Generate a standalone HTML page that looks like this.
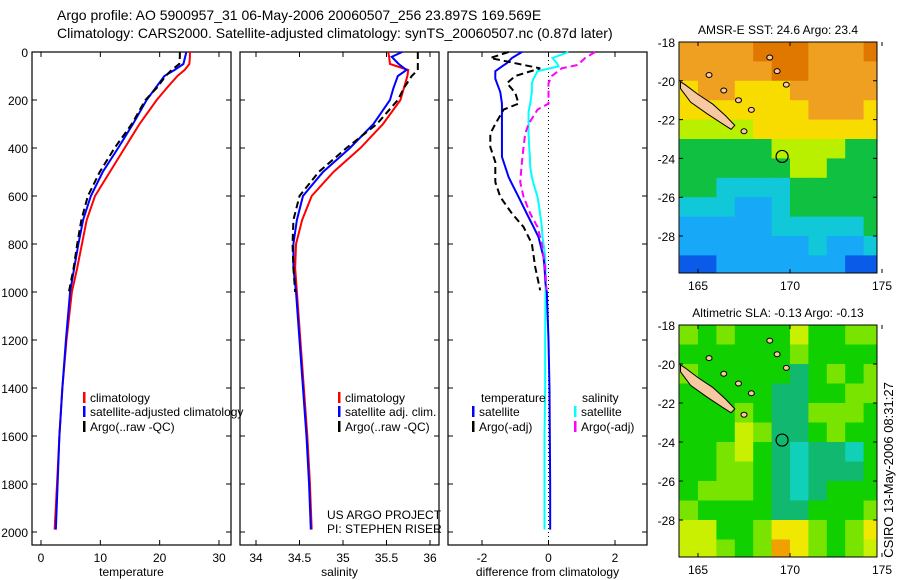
<!DOCTYPE html>
<html><head><meta charset="utf-8"><style>
body{margin:0;background:#fff;width:900px;height:580px;overflow:hidden}
svg{display:block;font-family:"Liberation Sans",sans-serif}
</style></head><body>
<svg id="fig" width="900" height="580" viewBox="0 0 900 580">
<text x="57" y="20" font-size="14">Argo profile: AO 5900957_31 06-May-2006 20060507_256 23.897S 169.569E</text>
<text x="57" y="38" font-size="14">Climatology: CARS2000. Satellite-adjusted climatology: synTS_20060507.nc (0.87d later)</text>
<text x="327" y="519" font-size="12">US ARGO PROJECT</text>
<text x="327" y="533" font-size="12">PI: STEPHEN RISER</text>
<text transform="translate(893,470) rotate(-90)" text-anchor="middle" font-size="13">CSIRO 13-May-2006 08:31:27</text>
</svg>
<script>
// ---------- data ----------
const depthClim = [0,20,50,75,100,150,200,300,400,500,600,700,800,900,1000,1200,1400,1600,1800,1990];
const tempClim  = [25.1,25.1,25.0,24.2,23.0,21.2,19.5,16.6,14.1,11.6,9.1,7.7,6.9,6.1,5.2,4.3,3.6,3.1,2.7,2.3];
const tempSat   = [24.5,24.3,24.0,22.5,20.8,19.3,17.8,15.5,13.0,10.4,8.4,7.1,6.3,5.6,4.9,4.2,3.6,3.1,2.8,2.5];
const salClim   = [35.52,35.53,35.54,35.75,35.74,35.70,35.66,35.46,35.20,34.89,34.64,34.53,34.46,34.45,34.47,34.51,34.55,34.59,34.62,34.64];
const salSat    = [35.68,35.56,35.64,35.73,35.63,35.58,35.54,35.35,35.08,34.77,34.54,34.47,34.43,34.43,34.46,34.50,34.54,34.58,34.61,34.63];
const depthArgo = [0,20,50,75,100,150,200,300,400,500,600,700,800,900,1000];
const tempArgo  = [23.4,23.4,23.3,22.0,21.0,19.5,17.6,15.3,12.4,9.9,7.9,6.8,6.1,5.5,4.7];
const salArgo   = [35.86,35.86,35.86,35.86,35.79,35.70,35.63,35.39,35.04,34.72,34.50,34.43,34.42,34.43,34.45];
const depthDiff = [0,25,46,60,80,111,130,167,215,250,300,340,396,437,479,521,549,604,646,688,729,771,799,854,896,965,1000,1200,1400,1600,1800,1990];
const dTempSat  = [-0.8,-1.1,-1.25,-1.4,-1.6,-1.6,-1.55,-1.45,-1.4,-1.4,-1.4,-1.4,-1.4,-1.4,-1.3,-1.2,-1.1,-0.9,-0.75,-0.6,-0.45,-0.3,-0.25,-0.15,-0.12,-0.09,-0.05,0.0,0.03,0.04,0.05,0.05];
const dSalSat   = [0.6,0.12,0.25,0.3,-0.33,-0.45,-0.5,-0.5,-0.55,-0.6,-0.6,-0.6,-0.58,-0.56,-0.55,-0.5,-0.45,-0.33,-0.28,-0.24,-0.2,-0.18,-0.15,-0.1,-0.09,-0.09,-0.09,-0.1,-0.1,-0.12,-0.12,-0.12];
const depthDiffArgo = [0,25,54,68,100,130,170,215,240,300,340,396,458,542,604,673,729,799,896,993];
const dTempArgo = [-1.2,-1.75,-0.75,-0.25,-1.0,-1.25,-1.0,-0.9,-1.35,-1.6,-1.75,-1.75,-1.6,-1.6,-1.45,-1.1,-0.75,-0.5,-0.4,-0.25];
const dSalArgo  = [1.4,1.1,0.88,0.4,0.1,0.0,0.0,0.0,-0.33,-0.6,-0.7,-0.75,-0.8,-0.85,-0.75,-0.55,-0.33,-0.2,-0.1,-0.06];
const depthTicks = [0,200,400,600,800,1000,1200,1400,1600,1800,2000];
const tempTicks = [0,10,20,30];
const salTicks = [34,34.5,35,35.5,36];
const diffTicks = [-2,0,2];
const lonTicks = [165,170,175];
const latTicks = [18,20,22,24,26,28];
// map grids: rows lat 18..29, cols lon 164..174 (colour class index)
const sstGrid = [
[6,6,6,6,7,7,7,6,6,6,7],[6,6,6,6,6,7,7,6,6,6,6],[5,6,6,5,5,5,6,6,6,6,6],[5,5,5,5,5,5,5,6,6,6,5],
[4,4,4,4,5,5,5,5,5,5,5],[3,3,3,3,3,4,4,4,4,3,3],[3,3,3,3,3,3,4,4,3,3,3],[3,3,2,2,2,2,3,3,3,3,3],
[2,2,2,1,1,2,3,3,3,3,3],[1,1,1,1,1,2,2,2,2,2,3],[1,1,1,1,1,1,1,2,1,1,2],[0,0,1,1,1,1,1,1,1,0,0]];
const slaGrid = [
[3,2,3,2,2,2,4,2,2,3,3],[2,2,2,2,2,2,3,2,2,2,2],[3,2,2,2,2,2,1,2,3,2,3],[2,2,2,2,2,1,1,2,2,3,3],
[2,2,2,3,2,1,1,3,3,3,2],[2,2,2,4,3,1,1,2,3,2,2],[2,2,3,4,2,1,0,1,1,0,2],[2,2,3,3,2,1,0,1,1,1,2],
[2,3,3,3,2,1,0,1,2,2,2],[3,2,2,2,2,1,1,2,2,2,3],[4,4,2,2,3,5,5,3,2,3,5],[4,4,3,2,3,6,5,3,2,3,4]];
const sstColors = ["#0a5ce8","#18a8f8","#10c8d8","#10c040","#b8f000","#f8dc00","#f0a020","#e07800"];
const slaColors = ["#10d0b8","#10b870","#10d000","#78e400","#c8f000","#f0e800","#f0a000"];
const islandLon = [164.05,164.3,165,165.8,166.5,167,166.8,166.3,165.5,164.6,164.05];
const islandLat = [20.05,20.2,20.7,21.2,21.8,22.3,22.5,22.2,21.7,21.1,20.4];
const smallLon = [167.2,167.9,165.6,166.4,168.9,169.3,169.8,167.5];
const smallLat = [21.0,21.5,19.7,20.5,18.8,19.5,20.2,22.6];
const floatLon = 169.57, floatLat = 23.9;

const NS="http://www.w3.org/2000/svg", svg=document.getElementById('fig');
function mk(tag,attrs,parent){const e=document.createElementNS(NS,tag);for(const k in attrs)e.setAttribute(k,attrs[k]);(parent||svg).appendChild(e);return e;}
function lin(d0,d1,p0,p1){return v=>p0+(v-d0)*(p1-p0)/(d1-d0);}

const Y = lin(0,2000,52,532);
function panel(name,x0,x1,xs,xticks,xlabel,fmt){
  const g=mk('g',{});
  
  
  const r=mk('rect',{x:x0,y:52,width:x1-x0,height:493,fill:'none',stroke:'#000','stroke-width':1.2},g);
  
  
  depthTicks.forEach(d=>{
    const t=mk('path',{d:`M${x0} ${Y(d)}h5M${x1} ${Y(d)}h-5`,stroke:'#000'},g);
    
    
    if(name==='temperature'){
      const l=mk('text',{x:x0-4,y:Y(d)+5,'text-anchor':'end','font-size':12},g);l.textContent=d;
      
      
    }
  });
  xticks.forEach(v=>{
    const t=mk('path',{d:`M${xs(v)} 52v5M${xs(v)} 545v-5`,stroke:'#000'},g);
    
    
    const l=mk('text',{x:xs(v),y:562,'text-anchor':'middle','font-size':12},g);l.textContent=fmt(v);
    
    
  });
  const xl=mk('text',{x:(x0+x1)/2,y:576,'text-anchor':'middle','font-size':12},g);xl.textContent=xlabel;
  
  
  return g;
}
function series(g,xs,vals,depths,color,dash,name){
  const p=mk('polyline',{points:vals.map((v,i)=>xs(v)+','+Y(depths[i])).join(' '),fill:'none',stroke:color,'stroke-width':2,'stroke-dasharray':dash||'none'},g);
  
  
}
function legend(g,x,y,color,label,name){
  const b=mk('rect',{x:x,y:y-10,width:2.5,height:11,fill:color},g);
  
  
  const t=mk('text',{x:x+7,y:y,'font-size':12},g);t.textContent=label;
  
  
}

// temperature
const XT=lin(0,30,41,219);
const g1=panel('temperature',32,231,XT,tempTicks,'temperature',v=>v);
series(g1,XT,tempClim,depthClim,'#f00',null,'temp-climatology-line');
series(g1,XT,tempSat,depthClim,'#00f',null,'temp-satellite-line');
series(g1,XT,tempArgo,depthArgo,'#000','7,4','temp-argo-line');
legend(g1,83,402,'#f00','climatology','legend-climatology');
legend(g1,83,416,'#00f','satellite-adjusted climatology','legend-satellite');
legend(g1,83,431,'#000','Argo(..raw -QC)','legend-argo');

// salinity
const XS=lin(34,36,256,430);
const g2=panel('salinity',240,439,XS,salTicks,'salinity',v=>v);
series(g2,XS,salClim,depthClim,'#f00',null,'sal-climatology-line');
series(g2,XS,salSat,depthClim,'#00f',null,'sal-satellite-line');
series(g2,XS,salArgo,depthArgo,'#000','7,4','sal-argo-line');
legend(g2,338,402,'#f00','climatology','legend-climatology');
legend(g2,338,416,'#00f','satellite adj. clim.','legend-satellite');
legend(g2,338,431,'#000','Argo(..raw -QC)','legend-argo');

// difference
const XD=lin(-2,2,482,615);
const g3=panel('difference',448,647,XD,diffTicks,'difference from climatology',v=>v);
const zl=mk('line',{x1:XD(0),x2:XD(0),y1:52,y2:545,stroke:'#000','stroke-dasharray':'1,3'},g3);


series(g3,XD,dSalSat,depthDiff,'#0ff',null,'sal-satellite-diff-line');
series(g3,XD,dTempSat,depthDiff,'#00f',null,'temp-satellite-diff-line');
series(g3,XD,dTempArgo,depthDiffArgo,'#000','7,4','temp-argo-diff-line');
series(g3,XD,dSalArgo,depthDiffArgo,'#f0f','7,4','sal-argo-diff-line');
const lt=mk('text',{x:481,y:402,'font-size':12},g3);lt.textContent='temperature';


const ls=mk('text',{x:582,y:402,'font-size':12},g3);ls.textContent='salinity';


legend(g3,472,416,'#00f','satellite','legend-temp-satellite');
legend(g3,472,431,'#000','Argo(-adj)','legend-temp-argo');
legend(g3,574,416,'#0ff','satellite','legend-sal-satellite');
legend(g3,574,431,'#f0f','Argo(-adj)','legend-sal-argo');

// maps
function map(name,top,bottom,lat28,grid,colors,title){
  const x0=679,x1=877;
  const MX=lin(165,170,698,790), MY=lin(18,28,top,lat28);
  const g=mk('g',{});
  
  
  const cid=name+'clip';
  const cp=mk('clipPath',{id:cid},g);mk('rect',{x:x0,y:top,width:x1-x0,height:bottom-top},cp);
  const cg=mk('g',{'clip-path':`url(#${cid})`},g);
  grid.forEach((row,i)=>row.forEach((c,j)=>{
    const r=mk('rect',{x:MX(164+j),y:MY(18+i),width:MX(165+j)-MX(164+j)+0.5,height:MY(19+i)-MY(18+i)+0.5,fill:colors[c]},cg);
    
    
  }));
  const isl=mk('polygon',{points:islandLon.map((v,i)=>MX(v)+','+MY(islandLat[i])).join(' '),fill:'#f8c8a0',stroke:'#000','stroke-width':1},cg);
  
  
  smallLon.forEach((v,i)=>{
    const e=mk('ellipse',{cx:MX(v),cy:MY(smallLat[i]),rx:3,ry:2.5,fill:'#f8c8a0',stroke:'#000'},cg);
    
    
  });
  const fc=mk('circle',{cx:MX(floatLon),cy:MY(floatLat),r:6,fill:'none',stroke:'#000','stroke-width':1.2},cg);
  
  
  const fr=mk('rect',{x:x0,y:top,width:x1-x0,height:bottom-top,fill:'none',stroke:'#000'},g);
  
  
  latTicks.forEach(v=>{
    const t=mk('path',{d:`M${x0} ${MY(v)}h4M${x1} ${MY(v)}h-4`,stroke:'#000'},g);
    
    
    const l=mk('text',{x:x0-4,y:MY(v)+5,'text-anchor':'end','font-size':12},g);l.textContent='-'+v;
    
    
  });
  lonTicks.forEach(v=>{
    const t=mk('path',{d:`M${MX(v)} ${top}v4M${MX(v)} ${bottom}v-4`,stroke:'#000'},g);
    
    
    const l=mk('text',{x:MX(v),y:bottom+17,'text-anchor':'middle','font-size':12},g);l.textContent=v;
    
    
  });
  const tt=mk('text',{x:(x0+x1)/2,y:top-8,'text-anchor':'middle','font-size':12},g);tt.textContent=title;
  
  
}
map('sst',42,273,236,sstGrid,sstColors,'AMSR-E SST: 24.6 Argo: 23.4');
map('sla',325,557,520,slaGrid,slaColors,'Altimetric SLA: -0.13 Argo: -0.13');
</script>
</body></html>
